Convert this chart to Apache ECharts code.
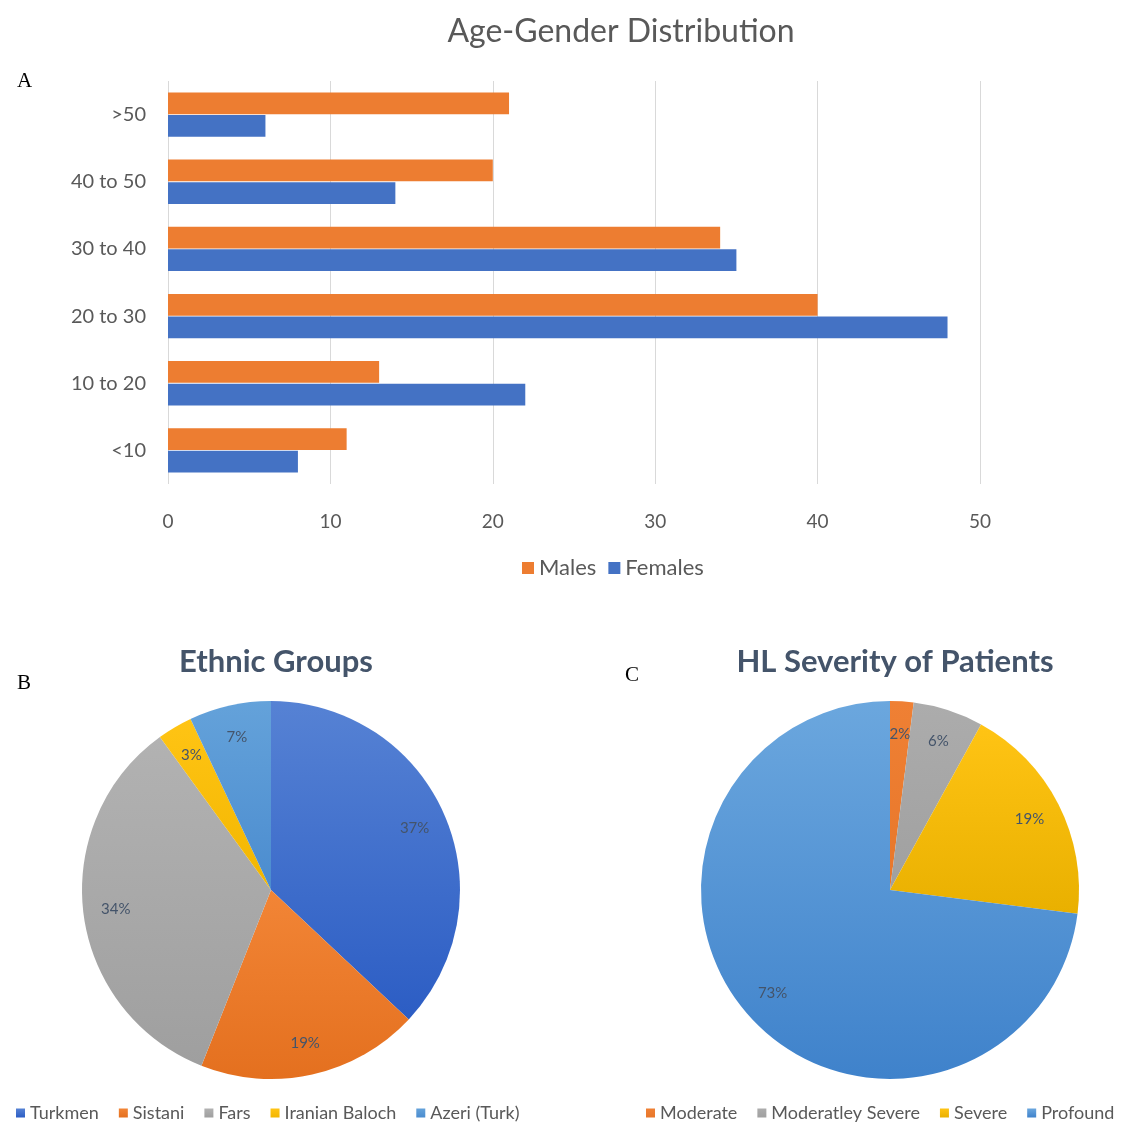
<!DOCTYPE html>
<html>
<head>
<meta charset="utf-8">
<script src="https://cdn.jsdelivr.net/npm/echarts@6/dist/echarts.min.js"></script>
<style>
  html, body { margin: 0; padding: 0; background: #fff; }
  #chart { width: 1140px; height: 1124px; }
</style>
</head>
<body>
<div id="chart"></div>
<script>
const ageGroups = ["<10", "10 to 20", "20 to 30", "30 to 40", "40 to 50", ">50"];
const males = [11, 13, 40, 34, 20, 21];
const females = [8, 22, 48, 35, 14, 6];
const xTicks = [0, 10, 20, 30, 40, 50];

const ethnicNames = ["Turkmen", "Sistani", "Fars", "Iranian Baloch", "Azeri (Turk)"];
const ethnicShares = [37, 19, 34, 3, 7];

const severityNames = ["Moderate", "Moderatley Severe", "Severe", "Profound"];
const severityShares = [2, 6, 19, 73];

const FONT = "Lato, 'Liberation Sans', sans-serif";
const grad = (top, bottom) => ({
  type: "linear", x: 0, y: 0, x2: 0, y2: 1,
  colorStops: [{ offset: 0, color: top }, { offset: 1, color: bottom }]
});

const ethnicColors = [
  grad("#5682d4", "#2c5dc4"),
  grad("#f28536", "#e4701f"),
  grad("#b2b2b2", "#9f9f9f"),
  grad("#ffc414", "#f2b600"),
  grad("#64a2da", "#4b8ccf")
];
const severityColors = [
  grad("#ef8034", "#e8772a"),
  grad("#acacac", "#a0a0a0"),
  grad("#ffc414", "#e9b000"),
  grad("#6ba7de", "#3f82cb")
];

const chart = echarts.init(document.getElementById("chart"));

const pieLabel = {
  show: true,
  position: "inside",
  formatter: "{c}%",
  color: "#44546a",
  fontSize: 15,
  fontFamily: FONT
};

function pieSeries(names, shares, colors, cx) {
  const data = names.map((name, i) => ({
    name, value: shares[i], itemStyle: { color: colors[i] }
  }));
  return [
    {
      type: "pie",
      center: [cx, 890],
      radius: 189,
      startAngle: 90,
      clockwise: true,
      label: { show: false },
      labelLine: { show: false },
      itemStyle: { borderWidth: 0 },
      emphasis: { disabled: true },
      data
    },
    {
      // transparent ring carrying the percent labels at ~0.8 radius
      type: "pie",
      center: [cx, 890],
      radius: [118, 189],
      startAngle: 90,
      clockwise: true,
      silent: true,
      label: pieLabel,
      labelLine: { show: false },
      itemStyle: { color: "transparent", borderWidth: 0 },
      emphasis: { disabled: true },
      data: names.map((name, i) => ({ name, value: shares[i] }))
    }
  ];
}

const legendText = { color: "#595959", fontSize: 18, fontFamily: FONT };
const serif = { color: "#000", fontSize: 21, fontWeight: "normal", fontFamily: "'Liberation Serif', serif" };

chart.setOption({
  backgroundColor: "#fff",
  animation: false,
  title: [
    {
      text: "Age-Gender Distribution",
      left: 616, top: 11, textAlign: "center",
      textStyle: { color: "#595959", fontSize: 32, fontWeight: "normal", fontFamily: FONT }
    },
    { text: "A", left: 12, top: 66, textStyle: serif },
    { text: "B", left: 12, top: 668, textStyle: serif },
    { text: "C", left: 620, top: 660, textStyle: serif },
    {
      text: "Ethnic Groups",
      left: 271, top: 641, textAlign: "center",
      textStyle: { color: "#44546a", fontSize: 31, fontWeight: "bold", fontFamily: FONT }
    },
    {
      text: "HL Severity of Patients",
      left: 890, top: 641, textAlign: "center",
      textStyle: { color: "#44546a", fontSize: 31, fontWeight: "bold", fontFamily: FONT }
    }
  ],
  legend: [
    {
      data: ["Males", "Females"],
      top: 557, left: 522,
      padding: 0,
      itemWidth: 12, itemHeight: 12, itemGap: 12, icon: "rect",
      textStyle: { color: "#595959", fontSize: 22, fontFamily: FONT }
    },
    {
      data: ethnicNames,
      top: 1104, left: 16, padding: 0,
      itemWidth: 9, itemHeight: 9, itemGap: 20, icon: "rect",
      textStyle: legendText
    },
    {
      data: severityNames,
      top: 1104, left: 646, width: 494, padding: 0,
      itemWidth: 9, itemHeight: 9, itemGap: 20, icon: "rect",
      textStyle: legendText
    }
  ],
  grid: { left: 168, right: 160, top: 81, bottom: 640 },
  xAxis: {
    type: "value",
    min: xTicks[0], max: xTicks[xTicks.length - 1], interval: 10,
    axisLine: { show: false },
    axisTick: { show: false },
    axisLabel: { color: "#595959", fontSize: 19, fontFamily: FONT, margin: 28 },
    splitLine: { lineStyle: { color: "#d9d9d9", width: 1 } }
  },
  yAxis: {
    type: "category",
    data: ageGroups,
    axisLine: { show: false },
    axisTick: { show: false },
    axisLabel: { color: "#595959", fontSize: 20, fontFamily: FONT, margin: 22 }
  },
  series: [
    {
      name: "Males", type: "bar", data: males,
      itemStyle: { color: "#ed7d31" },
      barGap: "4%", barCategoryGap: "34%"
    },
    {
      name: "Females", type: "bar", data: females,
      itemStyle: { color: "#4472c4" }
    },
    ...pieSeries(ethnicNames, ethnicShares, ethnicColors, 271),
    ...pieSeries(severityNames, severityShares, severityColors, 890)
  ]
});
</script>
</body>
</html>
